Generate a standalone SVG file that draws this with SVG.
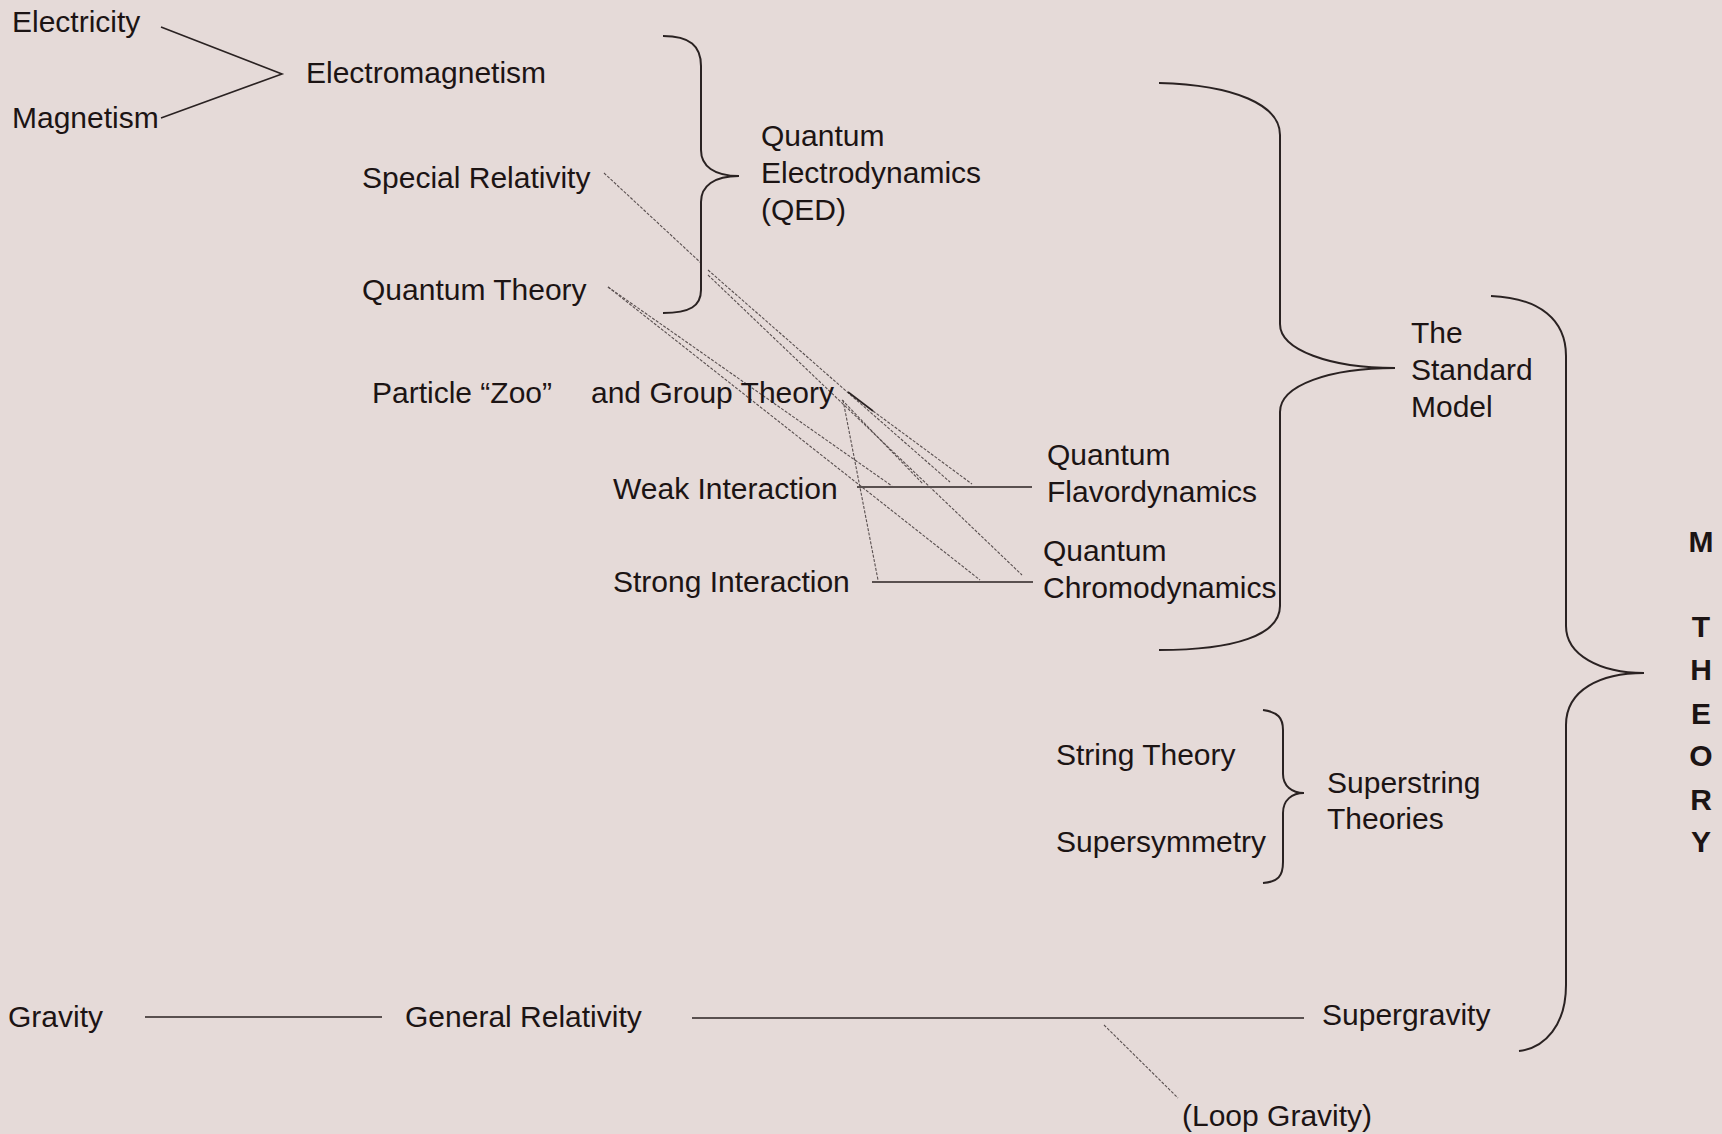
<svg xmlns="http://www.w3.org/2000/svg" width="1722" height="1134" viewBox="0 0 1722 1134">
<style>
text{font-family:"Liberation Sans",Arial,sans-serif;font-size:30px;fill:#1c1414}
.b{font-weight:bold;text-anchor:middle}
.ln{stroke:#2a2222;stroke-width:1.6;fill:none}
.br{stroke:#2a2222;stroke-width:2;fill:none}
.thin{stroke:#5a5050;stroke-width:1.1;fill:none;stroke-dasharray:3 1.5}
</style>
<rect width="1722" height="1134" fill="#e5dad8"/>
<g id="connectors">
<path class="ln" d="M161,27 L282,74 L161,118"/>
<path class="ln" d="M857,487 L1032,487"/>
<path class="ln" d="M872,582 L1033,582"/>
<path class="ln" d="M145,1017 L382,1017"/>
<path class="ln" d="M692,1018 L1304,1018"/>
<path class="thin" d="M1104,1025 L1178,1098"/>
<path class="thin" d="M604,173 L701,263"/>
<path class="thin" d="M708,270 L950,482"/>
<path class="thin" d="M708,275 L1022,575"/>
<path class="thin" d="M608,287 L892,486"/>
<path class="thin" d="M608,287 L980,580"/>
<path class="ln" d="M848,392 L873,411"/>
<path class="thin" d="M873,411 L972,484"/>
<path class="thin" d="M842,400 L923,484"/>
<path class="thin" d="M843,400 L878,580"/>
</g>
<g id="braces">
<path class="br" d="M663,36 C690,36 701,46 701,66 L701,150 C701,166 714,176 739,176 C714,176 701,186 701,202 L701,290 C701,306 690,313 663,313"/>
<path class="br" d="M1159,83 C1235,85 1280,105 1280,135 L1280,324 C1280,350 1330,368 1395,368 C1330,368 1280,385 1280,412 L1280,606 C1280,635 1235,650 1159,650"/>
<path class="br" d="M1491,296 C1540,298 1566,320 1566,356 L1566,626 C1566,655 1600,673 1644,673 C1600,673 1566,690 1566,725 L1566,985 C1566,1025 1545,1048 1519,1051"/>
<path class="br" d="M1263,710 C1278,712 1283,718 1283,730 L1283,774 C1283,786 1292,793 1304,793 C1292,793 1283,800 1283,813 L1283,862 C1283,876 1278,882 1263,883"/>
</g>
<g id="n-electricity"><text x="12" y="32">Electricity</text></g>
<g id="n-magnetism"><text x="12" y="128">Magnetism</text></g>
<g id="n-electromagnetism"><text x="306" y="83">Electromagnetism</text></g>
<g id="n-special-relativity"><text x="362" y="188">Special Relativity</text></g>
<g id="n-quantum-theory"><text x="362" y="300">Quantum Theory</text></g>
<g id="n-qed"><text x="761" y="146">Quantum</text><text x="761" y="183">Electrodynamics</text><text x="761" y="220">(QED)</text></g>
<g id="n-particle-zoo"><text x="372" y="403">Particle “Zoo”</text></g>
<g id="n-group-theory"><text x="591" y="403">and Group Theory</text></g>
<g id="n-weak"><text x="613" y="499">Weak Interaction</text></g>
<g id="n-strong"><text x="613" y="592">Strong Interaction</text></g>
<g id="n-qfd"><text x="1047" y="465">Quantum</text><text x="1047" y="502">Flavordynamics</text></g>
<g id="n-qcd"><text x="1043" y="561">Quantum</text><text x="1043" y="598">Chromodynamics</text></g>
<g id="n-standard-model"><text x="1411" y="343">The</text><text x="1411" y="380">Standard</text><text x="1411" y="417">Model</text></g>
<g id="n-string-theory"><text x="1056" y="765">String Theory</text></g>
<g id="n-supersymmetry"><text x="1056" y="852">Supersymmetry</text></g>
<g id="n-superstring"><text x="1327" y="793">Superstring</text><text x="1327" y="829">Theories</text></g>
<g id="n-gravity"><text x="8" y="1027">Gravity</text></g>
<g id="n-general-relativity"><text x="405" y="1027">General Relativity</text></g>
<g id="n-supergravity"><text x="1322" y="1025">Supergravity</text></g>
<g id="n-loop-gravity"><text x="1182" y="1126">(Loop Gravity)</text></g>
<g id="n-m-theory">
<text class="b" x="1701" y="552">M</text>
<text class="b" x="1701" y="637">T</text>
<text class="b" x="1701" y="680">H</text>
<text class="b" x="1701" y="724">E</text>
<text class="b" x="1701" y="766">O</text>
<text class="b" x="1701" y="810">R</text>
<text class="b" x="1701" y="852">Y</text>
</g>
</svg>
